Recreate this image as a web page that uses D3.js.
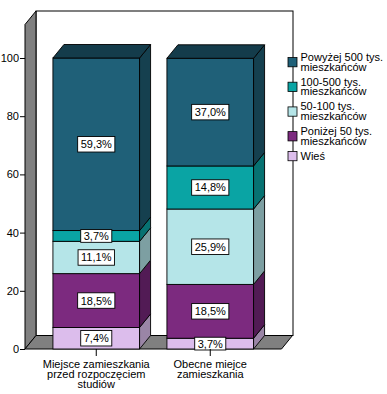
<!DOCTYPE html>
<html>
<head>
<meta charset="utf-8">
<script src="https://cdn.jsdelivr.net/npm/d3@7"></script>
<style>
  html, body { margin: 0; padding: 0; background: #fff; }
  svg { display: block; font-family: "Liberation Sans", Arial, sans-serif; }
</style>
</head>
<body>
<svg id="chart" width="387" height="394"></svg>
<script>
// ---- data ----
const categories = ["Miejsce zamieszkania przed rozpoczęciem studiów", "Obecne miejce zamieszkania"];
const categoryLines = [["Miejsce zamieszkania", "przed rozpoczęciem", "studiów"], ["Obecne miejce", "zamieszkania"]];
const seriesNames = ["Wieś", "Poniżej 50 tys. mieszkańców", "50-100 tys. mieszkańców", "100-500 tys. mieszkańców", "Powyżej 500 tys. mieszkańców"];
const seriesLegendLines = [["Wieś"], ["Poniżej 50 tys.", "mieszkańców"], ["50-100 tys.", "mieszkańców"], ["100-500 tys.", "mieszkańców"], ["Powyżej 500 tys.", "mieszkańców"]];
const wies        = [7.4, 3.7];
const ponizej50   = [18.5, 18.5];
const od50do100   = [11.1, 25.9];
const od100do500  = [3.7, 14.8];
const powyzej500  = [59.3, 37.0];
const yTicks = [0, 20, 40, 60, 80, 100];

const frontColors = ["#dcbdec", "#7c2a7f", "#b5e5e8", "#0aa4a4", "#1f6078"];
const sideColors  = ["#9a85a6", "#521b55", "#7d9fa2", "#077272", "#15404f"];
const topColor = "#143c4b";

const seriesValues = [wies, ponizej50, od50do100, od100do500, powyzej500];

// ---- layout ----
const svg = d3.select("#chart");
const dx = 11, dy = -13.5;
const x0 = 25, x1 = 281.5, yBase = 349;
const x = d3.scaleBand().domain(categories).range([x0, x1]).paddingInner(0.24).paddingOuter(0.245);
const y = d3.scaleLinear().domain([0, 100]).range([yBase, 58]);
const wallTop = 24.5;

// back wall
svg.append("rect")
  .attr("x", x0 + dx).attr("y", wallTop + dy)
  .attr("width", x1 - x0 + 0.5).attr("height", yBase - wallTop)
  .attr("fill", "#fff").attr("stroke", "#000").attr("stroke-width", 1);
// left wall
svg.append("polygon")
  .attr("points", [[x0, wallTop], [x0 + dx, wallTop + dy], [x0 + dx, yBase + dy], [x0, yBase]].join(" "))
  .attr("fill", "#808080").attr("stroke", "#000").attr("stroke-width", 1);
// floor
svg.append("polygon")
  .attr("points", [[x0, yBase], [x0 + dx, yBase + dy], [x1 + dx, yBase + dy], [x1, yBase]].join(" "))
  .attr("fill", "#808080").attr("stroke", "#000").attr("stroke-width", 1);

// legend (drawn over back wall edge)
const legend = svg.append("g");
let cursor = 53;
const lineH = 9.7;
seriesNames.slice().reverse().forEach((name, ri) => {
  const i = seriesNames.length - 1 - ri;
  const lines = seriesLegendLines[i];
  const blockCenter = cursor + lines.length * lineH / 2;
  legend.append("rect")
    .attr("x", 288).attr("y", blockCenter - 5.2)
    .attr("width", 9).attr("height", 9.3)
    .attr("fill", frontColors[i]).attr("stroke", "#000").attr("stroke-width", 0.8);
  lines.forEach((ln, k) => {
    legend.append("text")
      .attr("x", 300.5).attr("y", cursor + 8 + k * lineH)
      .attr("font-size", 11).attr("fill", "#000")
      .text(ln);
  });
  cursor += lines.length * lineH + (lines.length > 1 ? 5.3 : 0);
});

// bars
const stackData = categories.map((c, ci) => {
  let acc = 0;
  return seriesValues.map((arr, si) => {
    const v = arr[ci];
    const seg = { cat: c, si, v, y0: acc, y1: acc + v };
    acc += v;
    return seg;
  });
});

const barsG = svg.append("g");
stackData.forEach((segs) => {
  const g = barsG.append("g");
  segs.forEach((s) => {
    const bx = x(s.cat), bw = x.bandwidth();
    const yt = y(s.y1), yb = y(s.y0);
    g.append("rect")
      .attr("x", bx).attr("y", yt).attr("width", bw).attr("height", yb - yt)
      .attr("fill", frontColors[s.si]).attr("stroke", "#000").attr("stroke-width", 0.9);
    g.append("polygon")
      .attr("points", [[bx + bw, yt], [bx + bw + dx, yt + dy], [bx + bw + dx, yb + dy], [bx + bw, yb]].join(" "))
      .attr("fill", sideColors[s.si]).attr("stroke", "#000").attr("stroke-width", 0.9);
  });
  const top = segs[segs.length - 1];
  const bx = x(top.cat), bw = x.bandwidth(), yt = y(top.y1);
  g.append("polygon")
    .attr("points", [[bx, yt], [bx + dx, yt + dy], [bx + bw + dx, yt + dy], [bx + bw, yt]].join(" "))
    .attr("fill", topColor).attr("stroke", "#000").attr("stroke-width", 0.9);
});

// value labels
const fmt = v => d3.format(".1f")(v).replace(".", ",") + "%";
const labelsG = svg.append("g");
stackData.forEach((segs) => {
  segs.forEach((s) => {
    const cx = x(s.cat) + x.bandwidth() / 2;
    const cy = (y(s.y0) + y(s.y1)) / 2;
    const lg = labelsG.append("g");
    const t = lg.append("text")
      .attr("x", cx).attr("y", cy + 4)
      .attr("text-anchor", "middle").attr("font-size", 11).attr("fill", "#000")
      .text(fmt(s.v));
    const tw = t.node().getComputedTextLength();
    const segH = y(s.y0) - y(s.y1);
    const bh = Math.min(15.5, segH + 2);
    lg.insert("rect", "text")
      .attr("x", cx - tw / 2 - 3).attr("y", cy - bh / 2)
      .attr("width", tw + 6).attr("height", bh)
      .attr("fill", "#fff").attr("stroke", "#000").attr("stroke-width", 0.9);
  });
});

// y axis
const yAxis = d3.axisLeft(y).tickValues(yTicks).tickSize(5).tickPadding(1).tickFormat(d3.format("d"));
svg.append("g").attr("transform", `translate(${x0},0)`).call(yAxis)
  .call(g => g.select(".domain").remove())
  .call(g => g.selectAll("text").attr("font-size", 11).attr("fill", "#000").attr("font-family", "Liberation Sans, Arial, sans-serif"))
  .call(g => g.selectAll("line").attr("stroke", "#000"));

// x axis ticks and labels
const xAxis = d3.axisBottom(x).tickSize(7).tickFormat("");
svg.append("g").attr("transform", `translate(0,${yBase})`).call(xAxis)
  .call(g => g.select(".domain").remove())
  .call(g => g.selectAll("line").attr("stroke", "#000"));
const catG = svg.append("g");
categories.forEach((c, ci) => {
  categoryLines[ci].forEach((ln, k) => {
    catG.append("text")
      .attr("x", x(c) + x.bandwidth() / 2).attr("y", 368 + k * 10)
      .attr("text-anchor", "middle").attr("font-size", 11).attr("fill", "#000")
      .text(ln);
  });
});
</script>
</body>
</html>
